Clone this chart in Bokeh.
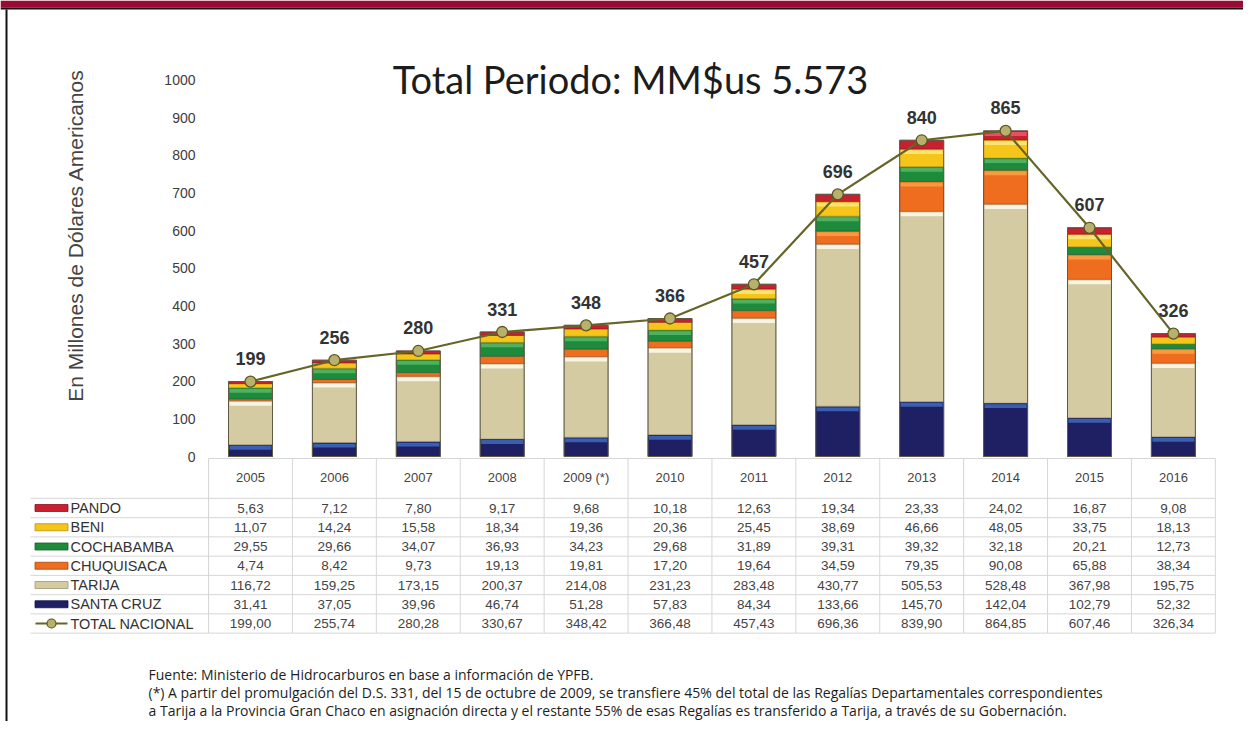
import numpy as np
from bokeh.plotting import figure
from bokeh.models import Range1d
from bokeh.core.properties import value
from bokeh.embed import file_html
from bokeh.resources import INLINE

# ---------------- data ----------------
years = ["2005", "2006", "2007", "2008", "2009", "2010", "2011", "2012", "2013", "2014", "2015", "2016"]
year_labels = ["2005", "2006", "2007", "2008", "2009 (*)", "2010", "2011", "2012", "2013", "2014", "2015", "2016"]
pando = [5.63, 7.12, 7.80, 9.17, 9.68, 10.18, 12.63, 19.34, 23.33, 24.02, 16.87, 9.08]
beni = [11.07, 14.24, 15.58, 18.34, 19.36, 20.36, 25.45, 38.69, 46.66, 48.05, 33.75, 18.13]
cochabamba = [29.55, 29.66, 34.07, 36.93, 34.23, 29.68, 31.89, 39.31, 39.32, 32.18, 20.21, 12.73]
chuquisaca = [4.74, 8.42, 9.73, 19.13, 19.81, 17.20, 19.64, 34.59, 79.35, 90.08, 65.88, 38.34]
tarija = [116.72, 159.25, 173.15, 200.37, 214.08, 231.23, 283.48, 430.77, 505.53, 528.48, 367.98, 195.75]
santa_cruz = [31.41, 37.05, 39.96, 46.74, 51.28, 57.83, 84.34, 133.66, 145.70, 142.04, 102.79, 52.32]
total_nacional = [199.00, 255.74, 280.28, 330.67, 348.42, 366.48, 457.43, 696.36, 839.90, 864.85, 607.46, 326.34]
y_ticks = [0, 100, 200, 300, 400, 500, 600, 700, 800, 900, 1000]

title_text = "Total Periodo: MM$us 5.573"
y_title = "En Millones de Dólares Americanos"
notes = [
    "Fuente: Ministerio de Hidrocarburos en base a información de YPFB.",
    "(*) A partir del promulgación del D.S. 331, del 15 de octubre de 2009, se transfiere 45% del total de las Regalías Departamentales correspondientes",
    "a Tarija a la Provincia Gran Chaco en asignación directa y el restante 55% de esas Regalías es transferido a Tarija, a través de su Gobernación.",
]

# stacking order bottom -> top
stack_names = ["SANTA CRUZ", "TARIJA", "CHUQUISACA", "COCHABAMBA", "BENI", "PANDO"]
stack_vals = [santa_cruz, tarija, chuquisaca, cochabamba, beni, pando]
fill = {"SANTA CRUZ": "#1f2063", "TARIJA": "#d4cba3", "CHUQUISACA": "#ee6d1f",
        "COCHABAMBA": "#1e8a3c", "BENI": "#f5c51a", "PANDO": "#c8202e"}
hilite = {"SANTA CRUZ": "#3b66b9", "TARIJA": "#fbf8ea", "CHUQUISACA": "#f8a043",
          "COCHABAMBA": "#55b465", "BENI": "#fbe57c", "PANDO": "#e8566a"}
edge = {"SANTA CRUZ": "#14154a", "TARIJA": "#9c9677", "CHUQUISACA": "#a8491a",
        "COCHABAMBA": "#145f2a", "BENI": "#b89212", "PANDO": "#8a1420"}

# ---------------- layout (screen pixel mapping) ----------------
W, H = 1243, 721
X0, DX = 250.0, 83.9      # screen x of first column centre, column pitch
Y0, PX = 456.0, 0.3765    # screen y of value 0, pixels per unit


def X(sx):
    return (sx - X0) / DX


def Y(sy):
    return (Y0 - sy) / PX


p = figure(width=W, height=H, output_backend="svg", toolbar_location=None,
           x_axis_type=None, y_axis_type=None,
           x_range=Range1d(X(0), X(W)), y_range=Range1d(Y(H), Y(0)),
           min_border=0, outline_line_color=None, background_fill_color="white",
           border_fill_color="white")
p.grid.visible = False

xi = np.arange(len(years))

# frame decoration
p.quad(left=[X(0)], right=[X(W)], top=[Y(0)], bottom=[Y(7)],
       fill_color="#9b0a34", line_color=None)
p.quad(left=[X(0)], right=[X(W)], top=[Y(7)], bottom=[Y(9)],
       fill_color="#111111", line_color=None)
p.quad(left=[X(5)], right=[X(7)], top=[Y(9)], bottom=[Y(H)], fill_color="#111111", line_color=None)

# ---------------- bars ----------------
BW = 44 / DX
bottom = np.zeros(len(years))
for name, vals in zip(stack_names, stack_vals):
    v = np.array(vals)
    top = bottom + v
    p.vbar(x=xi, width=BW, bottom=bottom, top=top, fill_color=fill[name],
           line_color=edge[name], line_width=0.6)
    seg_px = v * PX
    mask = seg_px > 9
    if mask.any():
        p.vbar(x=xi[mask], width=BW - 2 / DX, top=(top - 1.2 / PX)[mask],
               bottom=(top - 5 / PX)[mask], fill_color=hilite[name], line_color=None, fill_alpha=0.9)
    bottom = top

p.vbar(x=xi, width=BW, bottom=0, top=bottom, fill_color=None, line_color="#5e5a44", line_width=1)

# total line
tot = np.array(total_nacional)
p.line(xi, tot, line_color="#666427", line_width=2.2)
p.scatter(xi, tot, size=11, fill_color="#b8b06c", line_color="#5a5722", line_width=1.3)
p.text(xi, tot + 23 / PX, text=[f"{round(t)}" for t in tot], text_align="center",
       text_baseline="middle", text_font=value("Liberation Sans"), text_font_style="bold",
       text_font_size="18px", text_color="#333333")

# y axis labels
p.text([X(195)] * len(y_ticks), y_ticks, text=[str(t) for t in y_ticks], text_align="right",
       text_baseline="middle", text_font=value("Liberation Sans"), text_font_size="14px",
       text_color="#3c3c3c")
p.text([X(75)], [Y(235)], text=[y_title], angle=np.pi / 2, text_align="center",
       text_baseline="middle", text_font=value("Liberation Sans"), text_font_size="21px",
       text_color="#444444")

# title
p.text([X(630)], [Y(78)], text=[title_text], text_align="center", text_baseline="middle",
       text_font=value("Lato"), text_font_size="38px", text_color="#1c1c1c")

# ---------------- table ----------------
row_names = ["PANDO", "BENI", "COCHABAMBA", "CHUQUISACA", "TARIJA", "SANTA CRUZ", "TOTAL NACIONAL"]
row_vals = [pando, beni, cochabamba, chuquisaca, tarija, santa_cruz, total_nacional]
ROW0, RH = 507.5, 19.25
row_y = [ROW0 + k * RH for k in range(len(row_names))]
head_top, head_y = 458.0, 477.0
first_top = ROW0 - RH / 2
tab_bottom = row_y[-1] + RH / 2
x_left_data = X0 - DX / 2
x_right = X0 + DX * (len(years) - 0.5)

# grid lines
gx0, gy0, gx1, gy1 = [], [], [], []
for k in range(len(years) + 1):
    sx = X0 + DX * (k - 0.5)
    gx0.append(X(sx)); gx1.append(X(sx)); gy0.append(Y(head_top)); gy1.append(Y(tab_bottom))
gx0.append(X(x_left_data)); gx1.append(X(x_right)); gy0.append(Y(head_top)); gy1.append(Y(head_top))
for k in range(len(row_names) + 1):
    sy = first_top + k * RH
    gx0.append(X(30)); gx1.append(X(x_right)); gy0.append(Y(sy)); gy1.append(Y(sy))
p.segment(gx0, gy0, gx1, gy1, line_color="#d6d6d6", line_width=1)

# header
p.text(xi, [Y(head_y)] * len(years), text=year_labels, text_align="center", text_baseline="middle",
       text_font=value("Liberation Sans"), text_font_size="13px", text_color="#444444")

# cells
for name, vals, sy in zip(row_names, row_vals, row_y):
    p.text(xi, [Y(sy)] * len(years), text=[f"{v:.2f}".replace(".", ",") for v in vals],
           text_align="center", text_baseline="middle", text_font=value("Liberation Sans"),
           text_font_size="13.5px", text_color="#444444")
    p.text([X(70)], [Y(sy)], text=[name], text_align="left", text_baseline="middle",
           text_font=value("Liberation Sans"), text_font_size="14.5px", text_color="#333333")
    if name in fill:
        p.rect([X(51)], [Y(sy)], width=33, height=7, width_units="screen", height_units="screen",
               fill_color=fill[name], line_color=edge[name], line_width=0.8)
    else:
        p.segment([X(35)], [Y(sy)], [X(67)], [Y(sy)], line_color="#666427", line_width=2)
        p.scatter([X(51)], [Y(sy)], size=9, fill_color="#b8b06c", line_color="#5a5722", line_width=1.2)

# footnotes
for txt, sy in zip(notes, [674, 692, 710]):
    p.text([X(148)], [Y(sy)], text=[txt], text_align="left", text_baseline="middle",
           text_font=value("Open Sans"), text_font_size="14px", text_color="#1e1e1e")

open("out.html", "w").write(file_html(p, INLINE))
